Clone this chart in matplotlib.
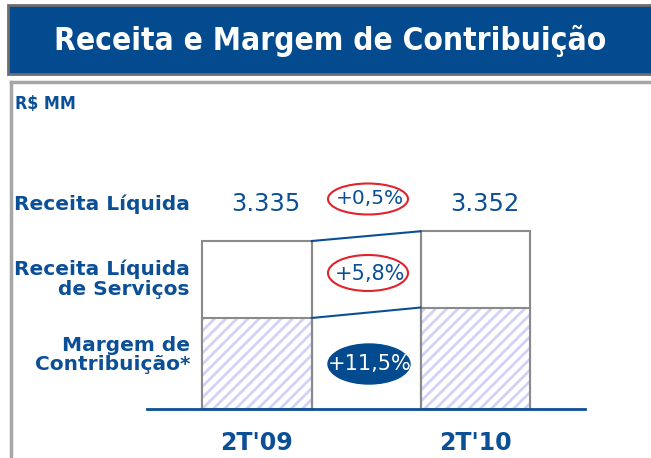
import matplotlib
matplotlib.use("Agg")
import matplotlib.pyplot as plt
from matplotlib.patches import Rectangle, Ellipse

# dados (indice: Receita Liquida de Servicos 2T'09 = 100)
periodos = ["2T'09", "2T'10"]
receita_liquida = ["3.335", "3.352"]
receita_servicos = [100.0, 105.8]
margem_contrib = [54.2, 60.4]
var_receita = "+0,5%"
var_servicos = "+5,8%"
var_margem = "+11,5%"
linhas = ["Receita Líquida", "Receita Líquida\nde Serviços", "Margem de\nContribuição*"]

AZUL = "#0b4f97"
AZUL_ESC = "#034a8e"
CINZA = "#8a8a8a"
HACH = "#d2d2f7"

plt.rcParams["hatch.linewidth"] = 2.0

W, H = 651, 458
fig = plt.figure(figsize=(W / 100, H / 100), dpi=100)

# camada de fundo em pixels
bg = fig.add_axes([0, 0, 1, 1])
bg.set_xlim(0, W)
bg.set_ylim(H, 0)
bg.axis("off")

bg.add_patch(Rectangle((8, 5), 660, 69, facecolor=AZUL_ESC, edgecolor="#6d6d6d", lw=2))
bg.text(330, 41, "Receita e Margem de Contribuição", color="white", ha="center", va="center",
        fontsize=22.7, fontweight="bold", fontstretch="condensed", family=["DejaVu Sans"])
bg.plot([11, W], [82, 82], color="#a6a6a6", lw=2.5)
bg.plot([11, 11], [82, H], color="#a6a6a6", lw=2.5)
bg.text(15, 104, "R$ MM", color=AZUL, fontsize=12.8, fontweight="bold", va="center",
        fontstretch="condensed", family=["DejaVu Sans"])

fonte = ["DejaVu Sans"]
ylab = [204, 279, 355]
for y, t in zip(ylab, linhas):
    bg.text(190, y, t, color=AZUL, ha="right", va="center", fontsize=14.5, fontweight="bold",
            family=fonte, linespacing=1.05)

# grafico
x0, x1, base = 147, 585, 409
esc = 1.68  # px por unidade
ax = fig.add_axes([x0 / W, 1 - base / H, (x1 - x0) / W, 200 / H])
ax.set_xlim(-0.503, 1.501)
ax.set_ylim(0, 200 / esc)
ax.axis("off")
ax.patch.set_alpha(0)

pos = [0, 1]
lw = 0.503
ax.bar(pos, receita_servicos, width=lw, color="white", edgecolor=CINZA, lw=1.5, zorder=2)
ax.bar(pos, margem_contrib, width=lw, color="white", edgecolor=HACH, hatch="///", lw=0, zorder=3)
ax.bar(pos, margem_contrib, width=lw, color="none", edgecolor=CINZA, lw=1.5, zorder=4)
ax.axhline(0, color=AZUL, lw=2, zorder=5, clip_on=False)

# ligacoes entre as barras
xa, xb = pos[0] + lw / 2, pos[1] - lw / 2
ax.plot([xa, xb], receita_servicos, color=AZUL, lw=1.5, zorder=5)
ax.plot([xa, xb], margem_contrib, color=AZUL, lw=1.5, zorder=5)
ax.vlines([xa, xb], 0, receita_servicos, color=CINZA, lw=1.5, zorder=4)

for p, v in zip(pos, receita_liquida):
    bg.text(257 + 218.5 * p + 9, 204, v, color=AZUL, ha="center", va="center", fontsize=17.5,
            family=fonte)
for p, t in zip(pos, periodos):
    bg.text(257 + 218.5 * p, 443, t, color=AZUL, ha="center", va="center", fontsize=17,
            fontweight="bold", family=fonte)

# variacoes
bg.add_patch(Ellipse((368, 199), 80, 31, facecolor="white", edgecolor="#e3232b", lw=1.5))
bg.text(370, 199, var_receita, color=AZUL, ha="center", va="center", fontsize=14.5, family=fonte)
bg.add_patch(Ellipse((368, 273), 80, 36, facecolor="white", edgecolor="#e3232b", lw=1.5, zorder=6))
bg.text(370, 274, var_servicos, color=AZUL, ha="center", va="center", fontsize=15, family=fonte, zorder=7)
bg.add_patch(Ellipse((369, 364), 82, 40, facecolor=AZUL_ESC, edgecolor=AZUL_ESC, lw=1, zorder=6))
bg.text(370, 364, var_margem, color="white", ha="center", va="center", fontsize=15, family=fonte, zorder=7)

fig.savefig("out.png", dpi=100)
